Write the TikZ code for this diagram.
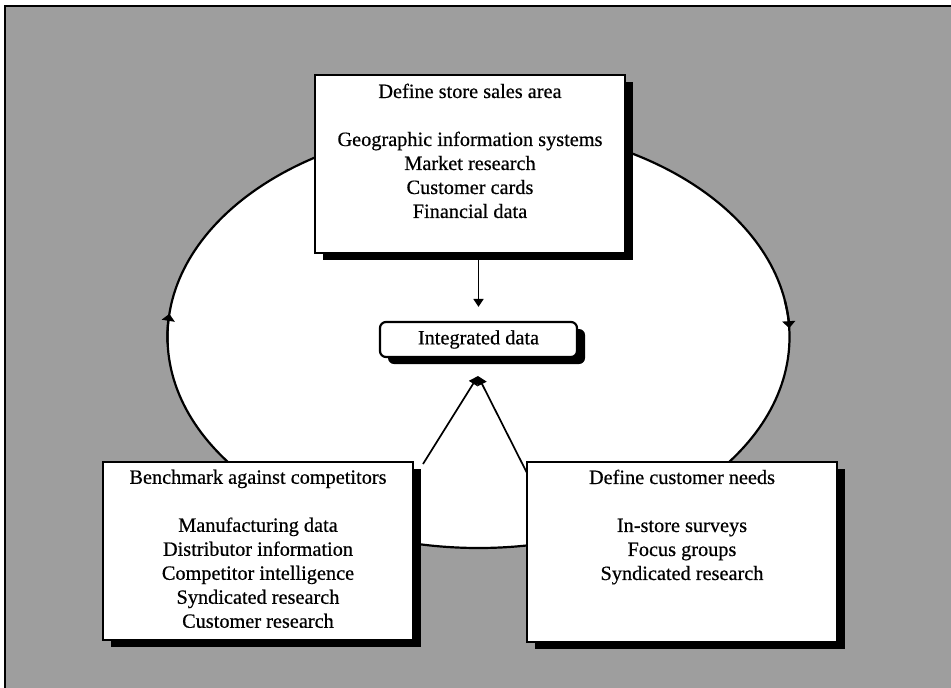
\documentclass[tikz,border=0pt]{standalone}
\usepackage{fontspec}
\setmainfont{Liberation Serif}
\usetikzlibrary{arrows.meta,shadows,calc}

\newcommand{\panelfont}{\fontsize{20.3}{24}\selectfont\addfontfeatures{FakeBold=0.5}}

\begin{document}
\begin{tikzpicture}[x=1pt,y=1pt,
  panel/.style={fill=white,draw=black,line width=2.2pt,inner sep=0pt,
    drop shadow={shadow xshift=8pt,shadow yshift=-7pt,fill=black,opacity=1}},
  bigbox/.style={panel,minimum width=310pt},
  boxtext/.style={anchor=north,align=center,inner sep=0pt,font=\panelfont},
  flow/.style={draw=black,line width=1.7pt},
  loop tip/.style={flow,line width=2.2pt,-{Triangle[length=7pt,width=13pt]}},
  feed tip/.style={flow,-{Triangle[length=9pt,width=10pt]}},
  down tip/.style={flow,-{Triangle[length=8pt,width=10pt]}}
]
\useasboundingbox (0,0) rectangle (951,-688);

% backdrop and frame
\fill[white] (0,0) rectangle (951,-688);
\fill[black!38] (5,-6) rectangle (951,-688);
\draw[line width=2.2pt] (5,-688) -- (5,-6) -- (951,-6);

% cycle ellipse
\coordinate (cycle) at (478.5,-337);
\draw[fill=white,line width=2.2pt] (cycle) ellipse [x radius=311, y radius=211];

% direction marks on the cycle
\draw[loop tip] (cycle) ++(182:311 and 211)
  arc[start angle=182, end angle=173.7, x radius=311, y radius=211];
\draw[loop tip] (cycle) ++(10:311 and 211)
  arc[start angle=10, end angle=2.4, x radius=311, y radius=211];

% feeds from the two lower boxes
\coordinate (apex) at (478,-376);
\coordinate (lfoot) at (423,-464);
\coordinate (rfoot) at (527,-473);
\draw[feed tip] (lfoot) -- (apex);
\draw[feed tip] (rfoot) -- (apex);

% boxes
\node[bigbox,minimum height=178pt] (store) at (470,-164) {};
\node[boxtext] (storetext) at (470,-83.5)
  {Define store sales area\\[24pt]Geographic information systems\\Market research\\Customer cards\\Financial data};

\node[panel,rounded corners=6pt,minimum width=197pt,minimum height=35pt,
  font=\panelfont] (integ) at (478.5,-339.5) {Integrated data};

\node[bigbox,minimum height=178pt] (bench) at (258,-551) {};
\node[boxtext] (benchtext) at (258,-469.5)
  {Benchmark against competitors\\[24pt]Manufacturing data\\Distributor information\\Competitor intelligence\\Syndicated research\\Customer research};

\node[bigbox,minimum height=180pt] (needs) at (682,-552) {};
\node[boxtext] (needstext) at (682,-469.5)
  {Define customer needs\\[24pt]In-store surveys\\Focus groups\\Syndicated research};

% store area into integrated data
\draw[down tip,shorten >=14pt] (store.south -| integ.north) -- (integ.north);
\end{tikzpicture}
\end{document}
